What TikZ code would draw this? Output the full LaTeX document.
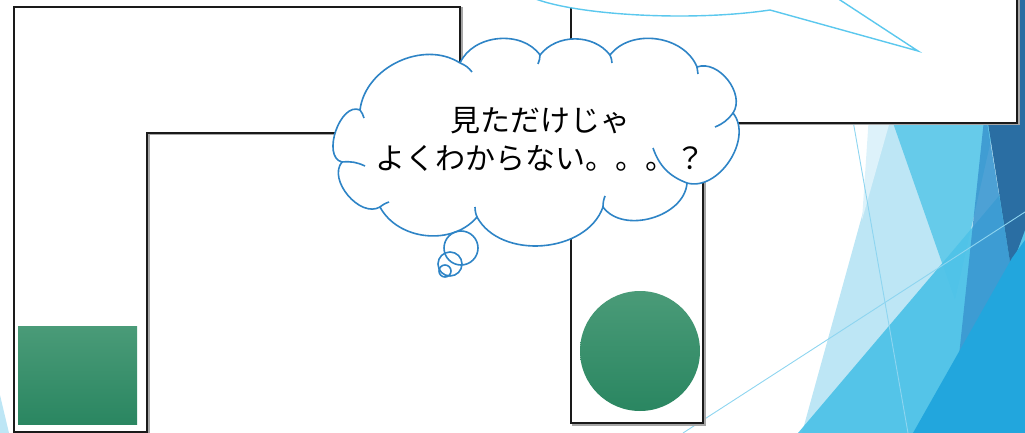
\documentclass[tikz,border=0pt]{standalone}
\usepackage{fontspec}
\newfontfamily\jpfont{Noto Sans CJK JP}
\definecolor{wallcol}{HTML}{1A1A1A}
\definecolor{cloudcol}{HTML}{2E84C6}
\definecolor{calloutcol}{HTML}{5BC8EE}
\definecolor{greentop}{HTML}{4A9B78}
\definecolor{greenbot}{HTML}{2A8661}
\definecolor{facetA}{HTML}{DDF2FA}
\definecolor{facetB}{HTML}{BDE6F5}
\definecolor{facetC}{HTML}{66CBEA}
\definecolor{facetD}{HTML}{4FC3E8}
\definecolor{facetE}{HTML}{3A96D0}
\definecolor{facetF}{HTML}{2A6EA3}
\definecolor{facetG}{HTML}{22A6DD}
\definecolor{raycol}{HTML}{8ED5F0}
\begin{document}
\begin{tikzpicture}[x=1pt,y=-1pt,
	wall/.style={draw=wallcol,line width=2pt,fill=white},
	wallshadow/.style={draw=black!35,line width=2pt},
	puff/.style={draw=cloudcol,line width=1.6pt},
	ray/.style={draw=raycol,line width=0.9pt},
	block/.style={top color=greentop,bottom color=greenbot}]
	\useasboundingbox (0,0) rectangle (1025,433);
	\clip (0,0) rectangle (1025,433);
	% background facets
	\fill[facetB] (894,100) -- (1025,100) -- (1025,433) -- (800,440) -- cycle;
	\fill[facetA] (870,100) -- (896,100) -- (862,220) -- cycle;
	\fill[facetC] (885,100) -- (1000,100) -- (955,300) -- cycle;
	\fill[facetD,opacity=.95] (798,433) -- (945,260) -- (1025,165) -- (1025,433) -- cycle;
	\fill[facetE,opacity=.85] (985,110) -- (1011,268) -- (958,365) -- cycle;
	\fill[facetF] (988,123) -- (988,-5) -- (1025,-5) -- (1025,230) -- (1011,268) -- cycle;
	\fill[facetG] (913,433) -- (1012,258) -- (1025,240) -- (1025,433) -- cycle;
	\fill[facetB] (0,395) -- (9,433) -- (0,433) -- cycle;
	\draw[ray] (852,115) -- (908,433);
	\draw[ray] (683,433) -- (1025,212);
	% walls
	\draw[wallshadow,shift={(1.5,1.5)}] (14,432) -- (14,7) -- (460,7) -- (460,133) -- (147,133) -- (147,432) -- cycle;
	\draw[wall] (14,432) -- (14,7) -- (460,7) -- (460,133) -- (147,133) -- (147,432) -- cycle;
	\draw[wallshadow,shift={(1.5,1.5)}] (571,-10) -- (1017,-10) -- (1017,123) -- (703,123) -- (703,423) -- (571,423) -- cycle;
	\draw[wall] (571,-10) -- (1017,-10) -- (1017,123) -- (703,123) -- (703,423) -- (571,423) -- cycle;
	% speech callout
	\draw[calloutcol,line width=1.4pt,fill=white] (533,-2) .. controls (575,15) and (690,22) .. (770,10) -- (918,51) -- (837,-2);
	% green blocks
	\shade[block] (18,326) rectangle (137,424);
	\shade[block] (640,351) circle (60);
	% thought cloud
	\coordinate (c1) at (460,63);
	\coordinate (c2) at (540,55);
	\coordinate (c3) at (610,55);
	\coordinate (c4) at (697,67);
	\coordinate (c5) at (733,113);
	\coordinate (c6) at (687,183);
	\coordinate (c7) at (603,207);
	\coordinate (c8) at (477,217);
	\coordinate (c9) at (380,207);
	\coordinate (c10) at (342,162);
	\coordinate (c11) at (360,110);
	\draw[puff,fill=white] (c1) \foreach \b/\ang in {2/60,3/52,4/60,5/72,6/72,7/70,8/66,9/56,10/80,11/95,1/58}
		{to[bend left=\ang] (c\b)};
	\draw[puff] (c1) to[bend left=15] (472,72);
	\draw[puff] (c2) to[bend left=10] (538,64);
	\draw[puff] (c3) to[bend left=10] (612,63);
	\draw[puff] (c4) to[bend left=10] (698,74);
	\draw[puff] (c5) to[bend left=15] (715,127);
	\draw[puff] (c6) to[bend left=25] (653,148);
	\draw[puff] (c7) to[bend left=10] (605,196);
	\draw[puff] (c8) to[bend left=10] (475,207);
	\draw[puff] (c9) to[bend left=10] (389,202);
	\draw[puff] (c10) to[bend left=15] (365,166);
	\draw[puff] (c11) to[bend left=10] (364,118);
	\draw[puff] (461,248) circle (17);
	\draw[puff] (450,264) circle (12);
	\draw[puff] (445,271) circle (6);
	\node[align=center,font=\jpfont\fontsize{30}{38}\selectfont] (thought) at (540,139)
		{見ただけじゃ\\よくわからない。。。？};
\end{tikzpicture}
\end{document}
